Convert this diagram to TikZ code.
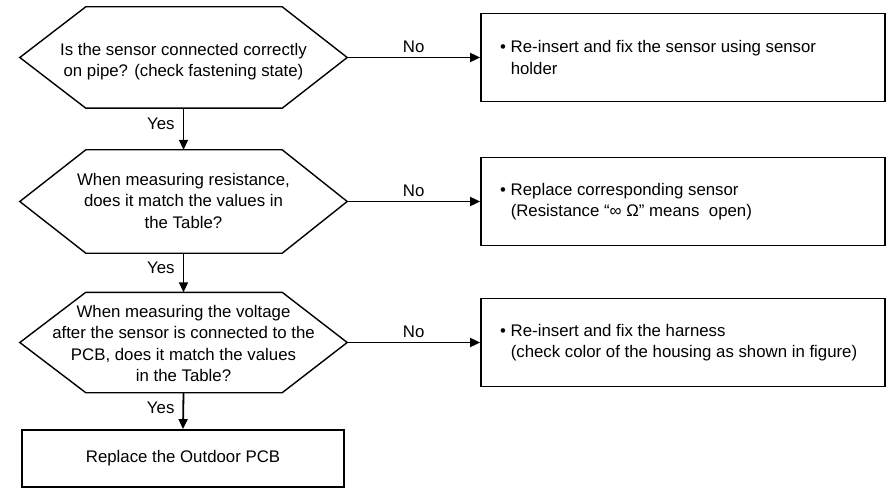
\documentclass[tikz,border=0pt]{standalone}
\usepackage{fontspec}
\setmainfont{Liberation Sans}
\usetikzlibrary{arrows.meta}
\newcommand\fsz{\fontsize{16.8pt}{21.5pt}\selectfont}
\newcommand\drawhex[1]{\draw[hexline] (#1.west) -- ([xshift=66pt]#1.north west) -- ([xshift=-65pt]#1.north east) -- (#1.east) -- ([xshift=-65pt]#1.south east) -- ([xshift=66pt]#1.south west) -- cycle;}
\begin{document}
\begin{tikzpicture}[x=1pt,y=-1pt,
  hexshape/.style={minimum width=327pt, inner sep=0pt, draw=none},
  hexline/.style={line width=1.4pt, line join=miter},
  qtext/.style={font=\fsz, align=center, inner sep=0pt},
  boxnode/.style={draw, line width=1.8pt, minimum width=404pt, minimum height=88pt, inner sep=0pt},
  endbox/.style={draw, line width=1.8pt, minimum width=322pt, minimum height=57pt, inner sep=0pt, font=\fsz},
  btext/.style={font=\fsz, align=left, anchor=west, inner sep=0pt},
  arr/.style={line width=1.8pt, -{Triangle[length=10pt,width=9pt]}},
  lbl/.style={font=\fsz, inner sep=0pt}]
\useasboundingbox (0,0) rectangle (890,489);

% decision hexagons
\node[hexshape, minimum height=101pt] (h1) at (183.5,57.5) {};
\node[hexshape, minimum height=103pt] (h2) at (183.5,201.5) {};
\node[hexshape, minimum height=100pt] (h3) at (183.5,342.5) {};
\drawhex{h1}
\drawhex{h2}
\drawhex{h3}
\node[qtext] (t1) at (183.5,61.5) {Is the sensor connected correctly\\on pipe? (check fastening state)};
\node[qtext] (t2) at (183.5,200.7) {When measuring resistance,\\does it match the values in\\the Table?};
\node[qtext] (t3) at (183.5,343.5) {When measuring the voltage\\after the sensor is connected to the\\PCB, does it match the values\\in the Table?};

% final box
\node[endbox] (r) at (183,458.5) {Replace the Outdoor PCB};

% action boxes
\node[boxnode] (b1) at (683,57.5) {};
\node[boxnode] (b2) at (683,201.5) {};
\node[boxnode] (b3) at (683,342.5) {};
\node[btext] (bt1) at (500,57.5) {\textbullet\ Re-insert and fix the sensor using sensor\\\phantom{\textbullet\ }holder};
\node[btext] (bt2) at (500,201.5) {\textbullet\ Replace corresponding sensor\\\phantom{\textbullet}\ (Resistance “∞ Ω” means\ \ open)};
\node[btext] (bt3) at (500,342.5) {\textbullet\ Re-insert and fix the harness\\\phantom{\textbullet}\ (check color of the housing as shown in figure)};

% connectors
\draw[arr] (h1.east) -- (b1.west) node[lbl, midway, anchor=base, yshift=5pt] (n1) {No};
\draw[arr] (h2.east) -- (b2.west) node[lbl, midway, anchor=base, yshift=5pt] (n2) {No};
\draw[arr] (h3.east) -- (b3.west) node[lbl, midway, anchor=base, yshift=5pt] (n3) {No};
\draw[arr] (h1.south) -- (h2.north) node[lbl, pos=0.37, anchor=east, xshift=-8pt] (y1) {Yes};
\draw[arr] (h2.south) -- (h3.north) node[lbl, pos=0.37, anchor=east, xshift=-8pt] (y2) {Yes};
\draw[arr] (h3.south) -- (r.north) node[lbl, pos=0.42, anchor=east, xshift=-8pt] (y3) {Yes};
\end{tikzpicture}
\end{document}
